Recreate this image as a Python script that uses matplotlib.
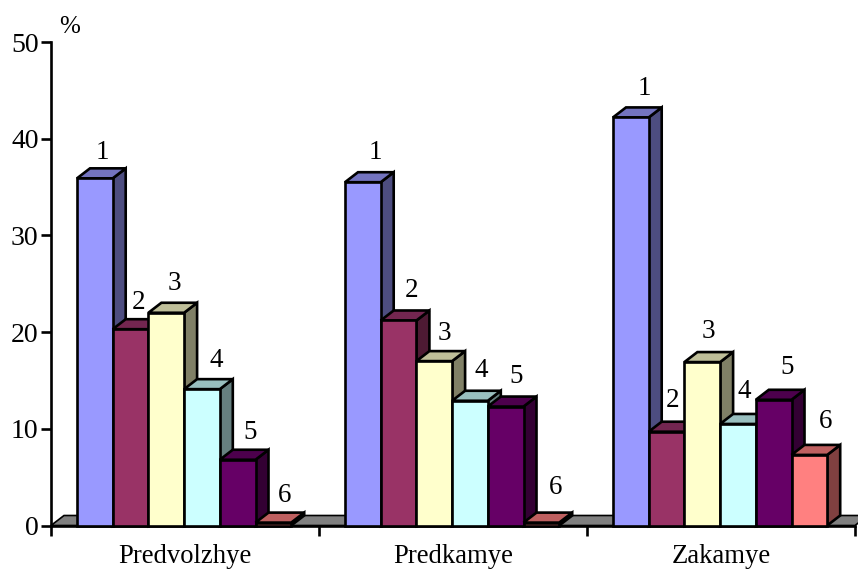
import matplotlib
matplotlib.use("Agg")
import matplotlib.pyplot as plt
from matplotlib.patches import Polygon

plt.rcParams["font.family"] = ["Liberation Serif", "DejaVu Serif"]

regions = ["Predvolzhye", "Predkamye", "Zakamye"]
classes = ["1", "2", "3", "4", "5", "6"]

# one list per class (%)
class_1 = [35.9, 35.5, 42.2]
class_2 = [20.3, 21.2, 9.7]
class_3 = [22.0, 17.0, 16.9]
class_4 = [14.1, 12.9, 10.5]
class_5 = [6.8, 12.3, 13.0]
class_6 = [0.3, 0.3, 7.3]
series = [class_1, class_2, class_3, class_4, class_5, class_6]

front = ["#9999FF", "#993366", "#FFFFCC", "#CCFFFF", "#660066", "#FF8080"]
top = ["#7373BF", "#732650", "#BFBF99", "#99BFBF", "#4D004D", "#BF6060"]
side = ["#4D4D80", "#4D1A33", "#808066", "#668080", "#330033", "#804040"]

# hand placement of the number labels, pixels from the bar's top centre
label_dx = [[8, 13, 14], [8, 13, 6], [8, 10, 6], [14, 11, 6], [12, 10, 13], [11, 14, 16]]
label_dy = [[26, 30, 29], [27, 30, 31], [29, 28, 31], [29, 30, 32], [27, 30, 32], [27, 35, 33]]

W, H = 858, 569
fig = plt.figure(figsize=(W / 100, H / 100), dpi=100)
ax = fig.add_axes([51 / W, 1 - 525.5 / H, 804 / W, 483.5 / H])
ax.set_xlim(0, 3)
ax.set_ylim(0, 50)

# 3d look: depth of the bars and of the floor, in data units
depth_x = 13 / 268
depth_y = 10 / 9.67
bar_w = 35.7 / 268
start = 26 / 268
edge = 1.9

# floor
ax.add_patch(Polygon([(0, 0), (depth_x, depth_y), (3 + depth_x, depth_y), (3, 0)],
                     closed=True, facecolor="#808080", edgecolor="black", lw=1.2,
                     zorder=1, clip_on=False))

for g in range(len(regions)):
    for c in range(len(classes)):
        v = series[c][g]
        x0 = g + start + c * bar_w
        x1 = x0 + bar_w
        z = 3 + c
        ax.add_patch(Polygon([(x1, 0), (x1 + depth_x, depth_y), (x1 + depth_x, v + depth_y), (x1, v)],
                             closed=True, facecolor=side[c], edgecolor="black", lw=edge,
                             zorder=z, clip_on=False))
        ax.add_patch(Polygon([(x0, v), (x0 + depth_x, v + depth_y), (x1 + depth_x, v + depth_y), (x1, v)],
                             closed=True, facecolor=top[c], edgecolor="black", lw=edge,
                             zorder=z, clip_on=False))
        ax.bar(x0, v, width=bar_w, align="edge", color=front[c], edgecolor="black",
               linewidth=edge, zorder=z, clip_on=False)
        ax.annotate(classes[c], (x0 + bar_w / 2, v),
                    xytext=(label_dx[c][g], label_dy[c][g]), textcoords="offset pixels",
                    ha="center", va="center", fontsize=19.5, zorder=20)

for s in ["top", "right"]:
    ax.spines[s].set_visible(False)
for s in ["left", "bottom"]:
    ax.spines[s].set_linewidth(1.9)

ax.set_yticks([0, 10, 20, 30, 40, 50])
ax.tick_params(axis="y", length=7, width=1.9, labelsize=20, pad=2)
ax.set_xticks([0, 1, 2, 3])
ax.set_xticklabels([])
ax.tick_params(axis="x", which="major", length=7, width=1.9)
ax.set_xticks([0.5, 1.5, 2.5], labels=regions, minor=True)
ax.tick_params(axis="x", which="minor", length=0, labelsize=19.2, pad=13.5)

fig.text(70 / W, 1 - 27 / H, "%", fontsize=18, ha="center", va="center")

fig.savefig("out.png", dpi=100)
